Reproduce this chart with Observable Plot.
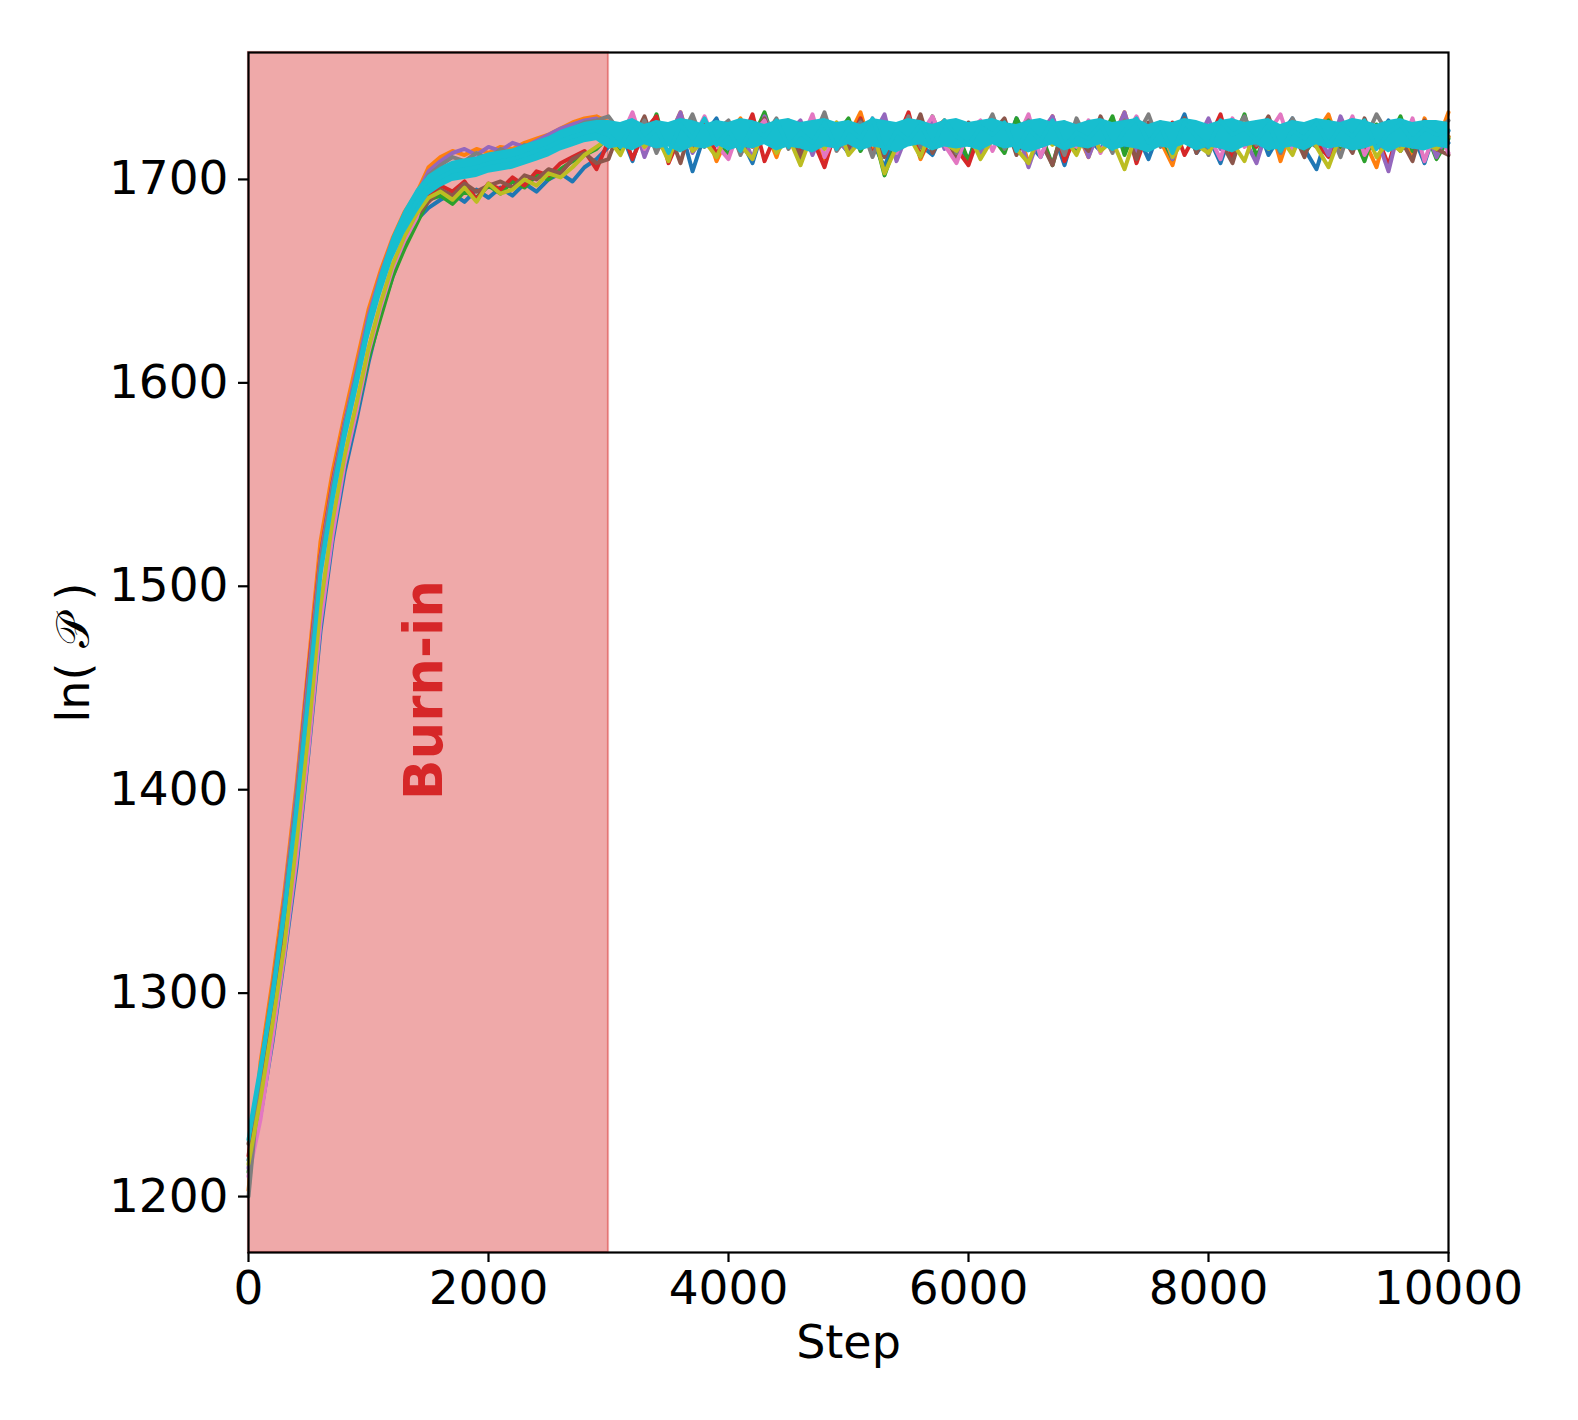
<!DOCTYPE html>
<html>
<head>
<meta charset="utf-8">
<script src="https://cdn.jsdelivr.net/npm/d3@7"></script>
<script src="https://cdn.jsdelivr.net/npm/@observablehq/plot@0.6"></script>
<style>
  html, body { margin: 0; padding: 0; background: #fff; }
  #chart svg { display: block; }
</style>
</head>
<body>
<div id="chart"></div>
<script>
// ---- data ----
const xTicks = [0, 2000, 4000, 6000, 8000, 10000];
const yTicks = [1200, 1300, 1400, 1500, 1600, 1700];
const xDomain = [0, 10000];
const yDomain = [1172.5, 1762.4];
const burnIn = [0, 3000];
const stepInterval = 100;

const walkerBlue = [1218,1240,1276,1318,1362,1418,1478,1522,1556,1582,1610,1634,1652,1668,1680,
  1686,1690,1693,1689,1695,1691,1696,1692,1698,1694,1700,1703,1699,1706,1710,
  1716,1724,1709,1728,1719,1712,1726,1704,1722,1730,
  1715,1720,1708,1727,1718,1724,1711,1729,1716,1721,
  1713,1726,1719,1706,1723,1731,1717,1712,1725,1720,
  1709,1728,1722,1715,1730,1718,1711,1724,1707,1727,
  1720,1714,1729,1716,1723,1710,1726,1719,1732,1713,
  1721,1708,1725,1717,1728,1712,1722,1730,1715,1705,
  1724,1718,1727,1711,1720,1729,1714,1723,1708,1726,
  1718];
const walkerOrange = [1203,1266,1306,1350,1402,1462,1522,1556,1584,1610,1636,1655,1671,1684,1693,
  1706,1711,1714,1712,1715,1713,1716,1715,1718,1720,1722,1725,1728,1730,1731,
  1728,1718,1731,1712,1725,1720,1733,1714,1727,1709,
  1722,1730,1716,1726,1711,1729,1719,1724,1707,1728,
  1721,1733,1713,1726,1718,1730,1710,1723,1729,1715,
  1725,1712,1731,1719,1727,1708,1722,1730,1716,1724,
  1711,1728,1720,1733,1714,1726,1719,1707,1729,1722,
  1716,1731,1712,1725,1720,1730,1709,1727,1718,1723,
  1732,1714,1726,1719,1706,1728,1721,1711,1730,1717,
  1733];
const walkerGreen = [1212,1246,1282,1322,1370,1424,1486,1528,1560,1586,1612,1632,1652,1666,1678,
  1690,1692,1688,1694,1691,1697,1693,1699,1696,1702,1700,1705,1709,1712,1715,
  1721,1713,1727,1718,1732,1710,1724,1716,1729,1719,
  1712,1726,1720,1733,1715,1723,1708,1728,1717,1722,
  1730,1714,1725,1702,1719,1727,1711,1731,1716,1724,
  1709,1726,1721,1713,1730,1718,1723,1707,1728,1715,
  1725,1719,1731,1712,1727,1716,1722,1710,1729,1720,
  1714,1726,1718,1732,1711,1724,1719,1728,1713,1721,
  1729,1716,1723,1709,1727,1719,1731,1714,1725,1710,
  1720];
const walkerRed = [1220,1262,1300,1345,1396,1458,1515,1551,1580,1604,1630,1650,1667,1680,1690,
  1692,1697,1694,1699,1690,1698,1695,1701,1697,1704,1702,1708,1711,1714,1705,
  1719,1727,1710,1724,1731,1708,1722,1716,1729,1712,
  1725,1718,1732,1709,1723,1728,1714,1720,1706,1726,
  1717,1730,1712,1725,1719,1733,1711,1722,1728,1715,
  1707,1724,1719,1729,1713,1726,1718,1731,1709,1722,
  1727,1714,1721,1730,1708,1725,1717,1728,1712,1723,
  1719,1732,1710,1726,1716,1729,1721,1713,1727,1718,
  1711,1724,1730,1715,1722,1707,1728,1719,1725,1713,
  1721];
const walkerPurple = [1214,1258,1296,1346,1398,1456,1514,1550,1580,1606,1633,1653,1670,1683,1692,
  1704,1709,1713,1715,1712,1716,1714,1718,1716,1719,1722,1725,1727,1729,1730,
  1724,1716,1730,1711,1726,1720,1733,1713,1722,1728,
  1718,1725,1710,1731,1717,1723,1729,1712,1727,1719,
  1714,1728,1721,1732,1709,1724,1718,1730,1715,1726,
  1720,1712,1729,1717,1725,1706,1723,1731,1716,1727,
  1711,1726,1719,1733,1714,1722,1728,1710,1725,1718,
  1730,1715,1724,1720,1708,1727,1713,1729,1719,1723,
  1712,1731,1717,1725,1721,1704,1728,1716,1726,1711,
  1724];
const walkerBrown = [1226,1255,1292,1330,1372,1428,1488,1530,1562,1588,1616,1638,1657,1671,1682,
  1689,1695,1692,1698,1694,1697,1699,1696,1702,1700,1705,1703,1710,1713,1708,
  1710,1726,1719,1731,1714,1724,1708,1729,1717,1722,
  1727,1713,1721,1730,1716,1725,1711,1728,1719,1723,
  1715,1729,1720,1711,1726,1718,1732,1713,1724,1709,
  1728,1716,1723,1730,1712,1725,1719,1707,1727,1721,
  1714,1731,1718,1724,1710,1728,1722,1716,1730,1713,
  1725,1719,1708,1727,1721,1731,1715,1724,1711,1728,
  1718,1723,1713,1730,1716,1726,1720,1709,1729,1715,
  1712];
const walkerPink = [1210,1238,1278,1320,1366,1420,1482,1525,1560,1586,1615,1637,1656,1670,1681,
  1700,1705,1708,1703,1711,1707,1712,1709,1714,1711,1716,1719,1722,1725,1727,
  1726,1720,1733,1715,1728,1712,1724,1719,1731,1717,
  1710,1727,1722,1729,1714,1725,1718,1732,1711,1723,
  1728,1716,1730,1720,1713,1726,1722,1731,1717,1708,
  1724,1729,1714,1727,1719,1732,1711,1725,1720,1716,
  1729,1713,1726,1721,1731,1717,1724,1712,1728,1719,
  1722,1710,1730,1716,1727,1723,1732,1714,1725,1720,
  1728,1717,1731,1712,1723,1727,1715,1730,1709,1726,
  1713];
const walkerGray = [1200,1262,1302,1344,1395,1452,1512,1548,1578,1604,1630,1651,1668,1681,1690,
  1702,1707,1711,1709,1713,1710,1715,1712,1717,1715,1720,1723,1725,1728,1729,
  1731,1723,1717,1729,1713,1726,1720,1732,1716,1724,
  1729,1712,1725,1721,1730,1715,1727,1719,1733,1714,
  1722,1728,1711,1726,1719,1731,1716,1724,1729,1713,
  1727,1720,1732,1715,1723,1729,1717,1726,1712,1730,
  1718,1725,1713,1729,1721,1732,1716,1724,1719,1727,
  1712,1728,1722,1731,1717,1725,1713,1730,1720,1716,
  1726,1711,1729,1719,1732,1722,1714,1727,1718,1724,
  1729];
const walkerOlive = [1216,1248,1285,1324,1374,1428,1490,1532,1564,1590,1617,1639,1658,1672,1683,
  1691,1694,1690,1696,1689,1698,1693,1695,1700,1697,1703,1701,1706,1712,1716,
  1720,1712,1725,1716,1722,1709,1727,1714,1719,1711,
  1724,1717,1710,1726,1713,1721,1707,1723,1715,1728,
  1712,1719,1725,1703,1716,1722,1711,1726,1718,1714,
  1723,1710,1720,1727,1715,1708,1724,1717,1721,1712,
  1726,1714,1719,1705,1723,1716,1728,1711,1720,1717,
  1713,1724,1718,1709,1726,1715,1721,1712,1727,1716,
  1706,1722,1717,1725,1711,1719,1714,1723,1718,1715,
  1721];
const walkerCyan = [1228,1262,1298,1340,1390,1446,1506,1543,1574,1600,1627,1648,1666,1679,1689,
  1697,1701,1704,1705,1706,1708,1709,1710,1712,1714,1716,1719,1721,1723,1724,
  1722,1716,1728,1719,1725,1713,1727,1720,1730,1717,
  1724,1714,1726,1721,1729,1716,1723,1718,1728,1715,
  1725,1720,1730,1713,1724,1719,1727,1716,1729,1721,
  1717,1726,1722,1728,1714,1725,1719,1729,1716,1723,
  1720,1727,1715,1724,1730,1718,1726,1713,1728,1721,
  1716,1729,1722,1725,1719,1727,1714,1724,1720,1728,
  1717,1726,1721,1729,1715,1723,1727,1719,1725,1722,
  1724];
// dense core of the top (cyan) walker: lower / upper edge
const cyanLow = [1222,1256,1292,1334,1384,1440,1500,1537,1568,1594,1621,1642,1660,1673,1683,
  1692,1696,1699,1700,1701,1703,1704,1705,1707,1709,1711,1714,1716,1718,1719,
  1715,1716,1714,1717,1715,1716,1713,1716,1715,1717,
  1714,1716,1715,1717,1714,1716,1715,1713,1716,1715,
  1717,1714,1716,1715,1713,1716,1717,1714,1716,1715,
  1716,1714,1717,1715,1716,1713,1715,1717,1714,1716,
  1715,1717,1714,1716,1715,1713,1716,1715,1717,1714,
  1716,1715,1713,1716,1717,1714,1715,1716,1714,1717,
  1715,1716,1714,1715,1717,1713,1716,1715,1714,1716,
  1715];
const cyanHigh = [1234,1268,1304,1346,1396,1452,1512,1549,1580,1606,1633,1654,1672,1685,1695,
  1702,1706,1709,1710,1711,1713,1714,1715,1717,1719,1721,1724,1726,1728,1729,
  1729,1728,1730,1727,1729,1728,1730,1729,1727,1729,
  1728,1730,1729,1727,1729,1730,1728,1729,1730,1728,
  1729,1727,1730,1729,1728,1730,1729,1727,1729,1730,
  1728,1729,1730,1728,1727,1729,1730,1728,1729,1727,
  1729,1730,1728,1729,1730,1727,1729,1728,1730,1729,
  1727,1729,1730,1728,1729,1730,1727,1729,1728,1730,
  1729,1728,1730,1729,1727,1729,1730,1728,1729,1729,
  1728];

const walkerNames = ["w0","w1","w2","w3","w4","w5","w6","w7","w8","w9"];
const walkerColors = ["#1f77b4","#ff7f0e","#2ca02c","#d62728","#9467bd","#8c564b","#e377c2","#7f7f7f","#bcbd22","#17becf"];
const walkerSeries = [walkerBlue, walkerOrange, walkerGreen, walkerRed, walkerPurple,
  walkerBrown, walkerPink, walkerGray, walkerOlive, walkerCyan];

// ---- tables ----
const underRows = [];
walkerSeries.slice(0, 9).forEach((arr, k) => arr.forEach((v, i) =>
  underRows.push({step: i * stepInterval, value: v, walker: walkerNames[k]})));
const cyanRows = walkerCyan.map((v, i) => ({step: i * stepInterval, value: v, walker: walkerNames[9]}));
const coreRows = cyanLow.map((lo, i) => ({step: i * stepInterval, lo, hi: cyanHigh[i]}));

const chart = Plot.plot({
  width: 1578,
  height: 1420,
  marginLeft: 248,
  marginRight: 130,
  marginTop: 52,
  marginBottom: 168,
  style: {fontFamily: "'DejaVu Sans', sans-serif", background: "#fff", color: "#000"},
  x: {domain: xDomain},
  y: {domain: yDomain},
  color: {type: "ordinal", domain: walkerNames, range: walkerColors},
  marks: [
    Plot.rect([burnIn], {x1: d => d[0], x2: d => d[1], y1: yDomain[0], y2: yDomain[1],
      fill: "#d62728", fillOpacity: 0.4, stroke: "#d62728", strokeOpacity: 0.4, strokeWidth: 2.2}),
    Plot.line(underRows, {x: "step", y: "value", z: "walker", stroke: "walker",
      strokeWidth: 4, strokeLinejoin: "round", strokeLinecap: "round"}),
    Plot.areaY(coreRows, {x: "step", y1: "lo", y2: "hi", fill: walkerColors[9]}),
    Plot.line(cyanRows, {x: "step", y: "value", stroke: "walker", strokeWidth: 4,
      strokeLinejoin: "round", strokeLinecap: "round"}),
    Plot.text(["Burn-in"], {x: 1475, y: 1449, rotate: -90, fill: "#d62728",
      fontWeight: "bold", fontSize: 53, textAnchor: "middle", lineAnchor: "middle"}),
    Plot.frame({stroke: "#000", strokeWidth: 2.2}),
    Plot.axisX({ticks: xTicks, tickFormat: d => String(d), tickSize: 10, tickPadding: 8,
      fontSize: 47, strokeWidth: 2.2, label: null}),
    Plot.axisY({ticks: yTicks, tickFormat: d => String(d), tickSize: 10, tickPadding: 10,
      fontSize: 47, strokeWidth: 2.2, label: null}),
    Plot.text(["Step"], {frameAnchor: "bottom", dy: 91, fontSize: 46,
      textAnchor: "middle", lineAnchor: "middle"}),
    Plot.text(["ln( \u{1D4AB} )"], {frameAnchor: "left", dx: -174, rotate: -90, fontSize: 46,
      textAnchor: "middle", lineAnchor: "middle"})
  ]
});
document.getElementById("chart").append(chart);
</script>
</body>
</html>
